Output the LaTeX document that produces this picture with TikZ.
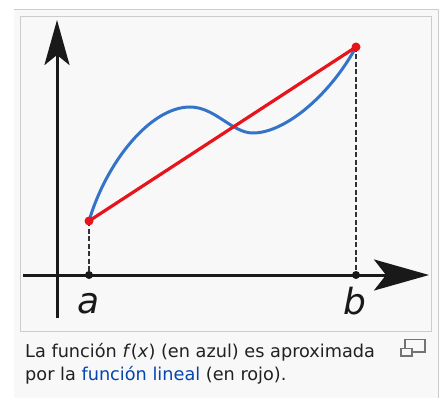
\documentclass[tikz,border=0pt]{standalone}
\usepackage{fontspec}
\setmainfont{DejaVu Sans}
\usetikzlibrary{arrows.meta}
\definecolor{azul}{HTML}{3474C8}
\definecolor{rojo}{HTML}{E8141B}
\definecolor{marco}{HTML}{CCCCCC}
\definecolor{fondo}{HTML}{F8F8F8}
\definecolor{enlace}{HTML}{0645AD}
\definecolor{tinta}{HTML}{202122}
\definecolor{gris}{HTML}{333333}
\tikzset{
  eje/.style={line width=3pt, black!90},
  guia/.style={gris, line width=2.2pt, dash pattern=on 5pt off 2.5pt},
  punto/.style={circle, fill=#1, inner sep=0pt, minimum size=9pt},
  rotulo/.style={font=\fontsize{36}{40}\selectfont\itshape, anchor=base, black!90},
  pie/.style={font=\fontsize{17.7}{22}\selectfont, anchor=base west, inner sep=0pt, tinta}
}

\begin{document}
\begin{tikzpicture}[x=1pt, y=-1pt]
        \useasboundingbox (0,0) rectangle (443,398);
        % marco de la miniatura
        \fill[fondo] (14,9) rectangle (439,398);
        \draw[marco] (14,9.5) -- (438.5,9.5) -- (438.5,398);
        \draw[marco, fill=fondo] (20.5,16.5) rectangle (431.5,331.5);
        % puntos
        \coordinate (fa) at (89,221);
        \coordinate (fb) at (356,47);
        \coordinate (xa) at (89,275);
        \coordinate (xb) at (356,275);
        % ejes
        \draw[eje, -{Stealth[length=55pt, width=31pt, inset=12pt]}] (23,275) -- (429,275);
        \draw[eje, -{Stealth[length=45pt, width=25pt, inset=10pt]}] (57,318) -- (57,20);
        \draw[guia] (fa) -- (xa);
        \draw[guia] (fb) -- (xb);
        \node[punto=black!90, minimum size=8pt] (pa) at (xa) {};
        \node[punto=black!90, minimum size=8pt] (pb) at (xb) {};
        % f(x) y su aproximacion lineal
        \draw[azul, line width=3pt] (fa) .. controls (106,163) and (150,107) .. (190,107)
              .. controls (215,107) and (232,133) .. (253,133)
              .. controls (285,133) and (330,95) .. (fb);
        \draw[rojo, line width=3.2pt] (fa) -- (fb);
        \node[punto=rojo] (ra) at (fa) {};
        \node[punto=rojo] (rb) at (fb) {};
        \node[rotulo] (la) at (89,313) {a};
        \node[rotulo] (lb) at (355,314) {b};
        % pie de figura
        \node[pie] (pie1) at (25,357.5) {La función \textit{f}(\textit{x}) (en azul) es aproximada};
        \node[pie] (pie2) at (25,380) {por la \textcolor{enlace}{función lineal} (en rojo).};
        \draw[black!55, line width=1.3pt] (405,339.5) rectangle (425,352);
        \draw[black!55, line width=1.3pt, fill=fondo] (401,348.5) rectangle (412,356);
      \end{tikzpicture}
\end{document}
